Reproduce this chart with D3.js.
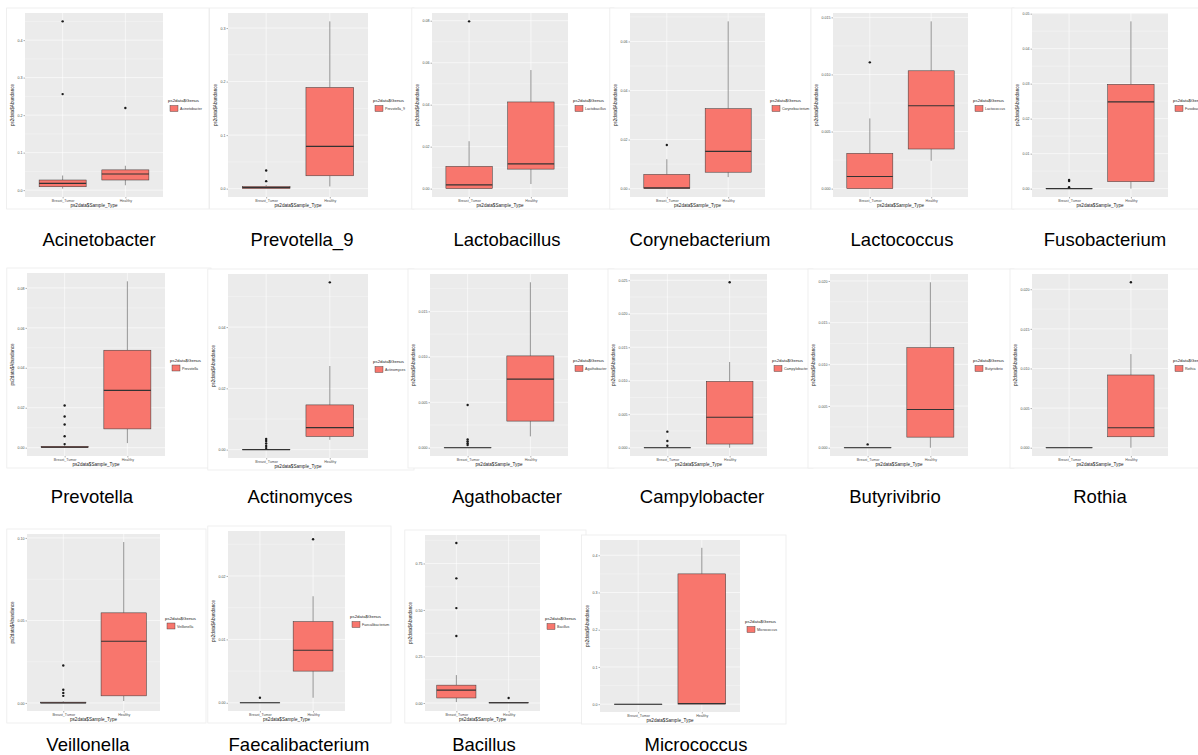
<!DOCTYPE html>
<html>
<head>
<meta charset="utf-8">
<script src="https://cdn.jsdelivr.net/npm/d3@7"></script>
<style>
  body { margin: 0; background: #fff; }
  svg { display: block; font-family: "Liberation Sans", Arial, sans-serif; }
</style>
</head>
<body>
<svg id="chart" width="1198" height="755"></svg>
<script>
// genus shown in each small boxplot, left to right, top to bottom
const genera = ["Acinetobacter", "Prevotella_9", "Lactobacillus", "Corynebacterium", "Lactococcus", "Fusobacterium",
  "Prevotella", "Actinomyces", "Agathobacter", "Campylobacter", "Butyrivibrio", "Rothia",
  "Veillonella", "Faecalibacterium", "Bacillus", "Micrococcus"];
const groups = ["Breast_Tumor", "Healthy"];

// box stats: [lower whisker, q1, median, q3, upper whisker]
const tumorBox = [
  [0.004, 0.009, 0.018, 0.027, 0.039],
  [0.000, 0.000, 0.002, 0.004, 0.007],
  [0.000, 0.000, 0.0018, 0.0106, 0.0226],
  [0.000, 0.000, 0.0003, 0.0058, 0.012],
  [0.000, 0.000, 0.00106, 0.00309, 0.00615],
  [0.000, 0.000, 0.000, 0.000, 0.000],
  [0.000, 0.000, 0.0003, 0.0007, 0.0012],
  [0.000, 0.000, 0.000, 0.000, 0.000],
  [0.000, 0.000, 0.000, 0.000, 0.000],
  [0.000, 0.000, 0.000, 0.000, 0.000],
  [0.000, 0.000, 0.000, 0.000, 0.000],
  [0.000, 0.000, 0.000, 0.000, 0.000],
  [0.000, 0.000, 0.000, 0.0005, 0.001],
  [0.000, 0.000, 0.000, 0.000, 0.000],
  [0.005, 0.027, 0.069, 0.096, 0.15],
  [0.000, 0.000, 0.000, 0.000, 0.000]
];
const healthyBox = [
  [0.013, 0.027, 0.043, 0.054, 0.065],
  [0.004, 0.024, 0.079, 0.189, 0.3125],
  [0.0022, 0.0093, 0.0118, 0.0413, 0.0565],
  [0.0047, 0.0067, 0.0152, 0.0326, 0.0682],
  [0.00244, 0.00347, 0.00726, 0.01032, 0.01465],
  [0.000, 0.002, 0.0248, 0.0298, 0.0478],
  [0.0023, 0.0094, 0.0287, 0.0488, 0.0833],
  [0.0032, 0.0043, 0.0072, 0.0146, 0.0273],
  [0.00125, 0.00293, 0.00755, 0.0101, 0.0182],
  [0.000, 0.00055, 0.00455, 0.0099, 0.0128],
  [0.000, 0.00127, 0.00458, 0.012, 0.01984],
  [0.000, 0.00138, 0.00252, 0.00918, 0.01182],
  [0.0012, 0.0043, 0.0374, 0.0546, 0.0975],
  [0.0008, 0.005, 0.0083, 0.0128, 0.0168],
  [0.000, 0.000, 0.001, 0.003, 0.005],
  [0.000, 0.000, 0.002, 0.350, 0.420]
];
const tumorOut = [
  [0.450, 0.256],
  [0.014, 0.034],
  [0.0797],
  [0.0178],
  [0.01106],
  [0.0004, 0.0022, 0.0025],
  [0.0018, 0.0057, 0.0116, 0.0156, 0.0211],
  [0.0005, 0.0012, 0.002, 0.0028, 0.0035],
  [0.0003, 0.0005, 0.0007, 0.0009, 0.0047],
  [0.0003, 0.001, 0.0024],
  [0.0004],
  [],
  [0.0043, 0.0061, 0.008, 0.0227],
  [0.0008],
  [0.36, 0.51, 0.67, 0.86],
  []
];
const healthyOut = [
  [0.219],
  [],
  [],
  [],
  [],
  [],
  [],
  [0.0546],
  [],
  [0.0247],
  [],
  [0.02088],
  [],
  [0.0258],
  [0.027],
  []
];
const yTickLabels = [
  ["0.0", "0.1", "0.2", "0.3", "0.4"],
  ["0.0", "0.1", "0.2", "0.3"],
  ["0.00", "0.02", "0.04", "0.06", "0.08"],
  ["0.00", "0.02", "0.04", "0.06"],
  ["0.000", "0.005", "0.010", "0.015"],
  ["0.00", "0.01", "0.02", "0.03", "0.04", "0.05"],
  ["0.00", "0.02", "0.04", "0.06", "0.08"],
  ["0.00", "0.02", "0.04"],
  ["0.000", "0.005", "0.010", "0.015"],
  ["0.000", "0.005", "0.010", "0.015", "0.020", "0.025"],
  ["0.000", "0.005", "0.010", "0.015", "0.020"],
  ["0.000", "0.005", "0.010", "0.015", "0.020"],
  ["0.00", "0.05", "0.10"],
  ["0.00", "0.01", "0.02"],
  ["0.00", "0.25", "0.50", "0.75"],
  ["0.0", "0.1", "0.2", "0.3", "0.4"]
];

// gray plot area of every screenshot: [left, top, right, bottom]
const panelArea = [
  [25, 13, 163, 197], [228, 13, 368, 197], [432, 13, 568, 197],
  [630, 13, 765, 197], [833, 13, 968, 197], [1032, 13, 1168, 197],
  [27, 273, 165, 456], [228, 274, 368, 458], [430, 274, 568, 456],
  [630, 274, 767, 456], [830, 274, 968, 456], [1032, 274, 1168, 456],
  [27, 534, 160, 711], [228, 531, 345, 711], [425, 535, 540, 711], [600, 540, 740, 712]
];
// caption centre and baseline
const captionPos = [
  [99, 246], [302, 246], [507, 246], [700, 246], [902, 246], [1105, 246],
  [92, 503], [300, 503], [507, 503], [702, 503], [895, 503], [1100, 503],
  [88, 751], [299, 751], [484, 751], [696, 751]
];

const boxFill = "#F8766D";
const lineCol = "#333333";
const svg = d3.select("#chart");

function drawPanel(i) {
  const [l, t, r, b] = panelArea[i];
  const g = svg.append("g");
  const ticks = yTickLabels[i].map(Number);

  const tumorVals = tumorBox[i].concat(tumorOut[i]);
  const healthyVals = healthyBox[i].concat(healthyOut[i]);
  const ext = d3.extent(tumorVals.concat(healthyVals));
  const pad = (ext[1] - ext[0]) * 0.05;

  const x = d3.scalePoint().domain(groups).range([l, r]).padding(0.6);
  const y = d3.scaleLinear().domain([ext[0] - pad, ext[1] + pad]).range([b, t]);
  const bw = x.step() * 0.75;

  // screenshot frame
  const labelW = d3.max(yTickLabels[i], s => s.length) * 1.8;
  g.append("rect")
    .attr("x", l - labelW - 13).attr("y", t - 5)
    .attr("width", r - l + labelW + 13 + 46).attr("height", b - t + 17)
    .attr("fill", "#fff").attr("stroke", "#ececec").attr("stroke-width", 0.8);

  g.append("rect")
    .attr("x", l).attr("y", t).attr("width", r - l).attr("height", b - t)
    .attr("fill", "#EBEBEB");

  // minor grid
  const step = ticks[1] - ticks[0];
  const minor = d3.range(ticks[0] - step / 2, ticks[ticks.length - 1] + step, step)
    .filter(v => v > y.domain()[0] && v < y.domain()[1]);
  g.selectAll(".minor").data(minor).enter().append("line")
    .attr("x1", l).attr("x2", r)
    .attr("y1", d => y(d)).attr("y2", d => y(d))
    .attr("stroke", "#fff").attr("stroke-width", 0.3);
  // major grid
  g.selectAll(".major").data(ticks).enter().append("line")
    .attr("x1", l).attr("x2", r)
    .attr("y1", d => y(d)).attr("y2", d => y(d))
    .attr("stroke", "#fff").attr("stroke-width", 0.6);
  g.selectAll(".vmajor").data(groups).enter().append("line")
    .attr("x1", d => x(d)).attr("x2", d => x(d))
    .attr("y1", t).attr("y2", b)
    .attr("stroke", "#fff").attr("stroke-width", 0.6);

  // axes
  const yAxis = d3.axisLeft(y).tickValues(ticks)
    .tickFormat((d, k) => yTickLabels[i][k]).tickSize(1.5).tickPadding(1);
  const ya = g.append("g").attr("transform", `translate(${l},0)`).call(yAxis);
  ya.select(".domain").remove();
  ya.selectAll("line").attr("stroke", lineCol).attr("stroke-width", 0.4);
  ya.selectAll("text").attr("font-size", 3.6).attr("fill", "#4D4D4D")
    .attr("font-family", "Liberation Sans, Arial, sans-serif");

  const xAxis = d3.axisBottom(x).tickSize(1.5).tickPadding(1);
  const xa = g.append("g").attr("transform", `translate(0,${b})`).call(xAxis);
  xa.select(".domain").remove();
  xa.selectAll("line").attr("stroke", lineCol).attr("stroke-width", 0.4);
  xa.selectAll("text").attr("font-size", 3.6).attr("fill", "#4D4D4D")
    .attr("font-family", "Liberation Sans, Arial, sans-serif");

  g.append("text")
    .attr("x", (l + r) / 2).attr("y", b + 10)
    .attr("text-anchor", "middle").attr("font-size", 4.6).attr("fill", "#222")
    .text("ps2data$Sample_Type");
  g.append("text")
    .attr("transform", `translate(${l - labelW - 6},${(t + b) / 2}) rotate(-90)`)
    .attr("text-anchor", "middle").attr("font-size", 4.6).attr("fill", "#222")
    .text("ps2data$Abundance");

  // boxes
  const stats = [tumorBox[i], healthyBox[i]];
  const outs = [tumorOut[i], healthyOut[i]];
  groups.forEach((grp, k) => {
    const [lo, q1, med, q3, hi] = stats[k];
    const cx = x(grp);
    g.append("line").attr("x1", cx).attr("x2", cx)
      .attr("y1", y(hi)).attr("y2", y(q3))
      .attr("stroke", lineCol).attr("stroke-width", 0.5);
    g.append("line").attr("x1", cx).attr("x2", cx)
      .attr("y1", y(q1)).attr("y2", y(lo))
      .attr("stroke", lineCol).attr("stroke-width", 0.5);
    g.append("rect")
      .attr("x", cx - bw / 2).attr("y", y(q3))
      .attr("width", bw).attr("height", Math.max(y(q1) - y(q3), 0.01))
      .attr("fill", boxFill).attr("stroke", lineCol).attr("stroke-width", 0.5);
    g.append("line").attr("x1", cx - bw / 2).attr("x2", cx + bw / 2)
      .attr("y1", y(med)).attr("y2", y(med))
      .attr("stroke", lineCol).attr("stroke-width", 1.1);
    g.selectAll(null).data(outs[k]).enter().append("circle")
      .attr("cx", cx).attr("cy", d => y(d)).attr("r", 1.2)
      .attr("fill", "#1a1a1a");
  });

  // legend (the last column is cut by the page edge, as in the source)
  const ly = (t + b) / 2;
  g.append("text").attr("x", r + 5).attr("y", ly - 3)
    .attr("font-size", 4.4).attr("fill", "#222").text("ps2data$Genus");
  g.append("rect").attr("x", r + 7).attr("y", ly + 0.5)
    .attr("width", 8).attr("height", 6)
    .attr("fill", boxFill).attr("stroke", lineCol).attr("stroke-width", 0.4);
  g.append("text").attr("x", r + 17).attr("y", ly + 5)
    .attr("font-size", 3.6).attr("fill", "#333").text(genera[i]);

  // caption under the screenshot
  svg.append("text")
    .attr("x", captionPos[i][0]).attr("y", captionPos[i][1])
    .attr("text-anchor", "middle").attr("font-size", 18.5).attr("fill", "#000")
    .text(genera[i]);
}

genera.forEach((d, i) => drawPanel(i));
</script>
</body>
</html>
